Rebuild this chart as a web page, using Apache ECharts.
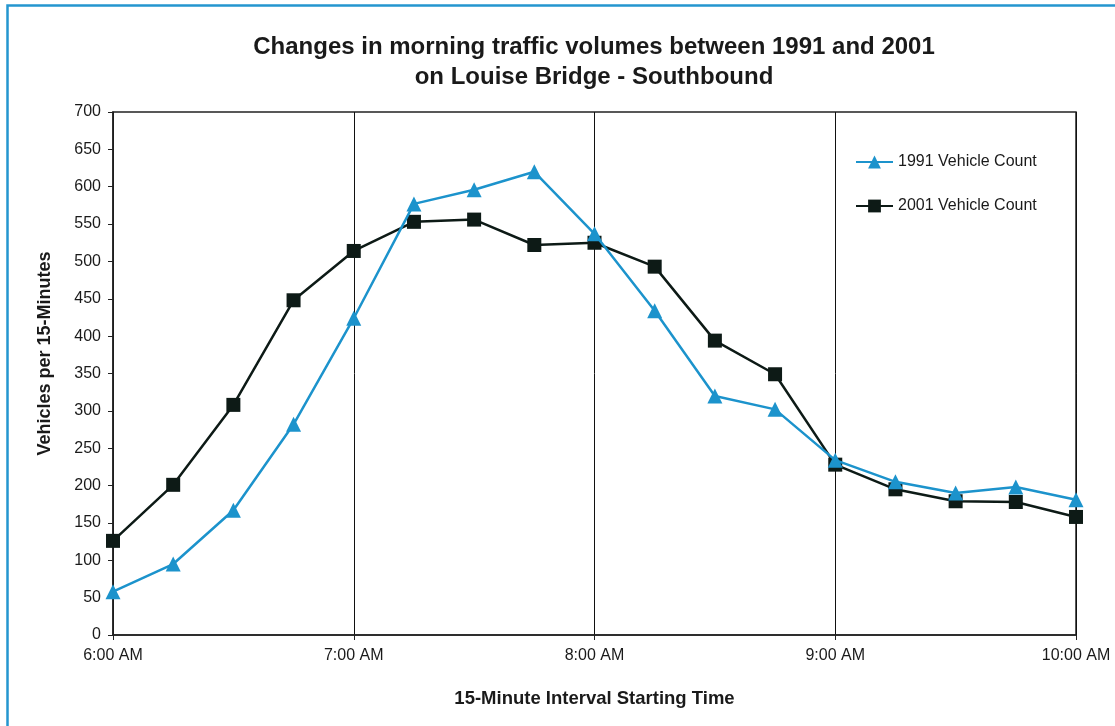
<!DOCTYPE html>
<html>
<head>
<meta charset="utf-8">
<script src="https://cdn.jsdelivr.net/npm/echarts@6/dist/echarts.min.js"></script>
<style>
  html, body { margin: 0; padding: 0; background: #fff; }
  #chart { width: 1115px; height: 726px; }
</style>
</head>
<body>
<div id="chart"></div>
<script>
// 15-minute intervals, 6:00 to 10:00
const times = [
  "6:00 AM", "6:15 AM", "6:30 AM", "6:45 AM",
  "7:00 AM", "7:15 AM", "7:30 AM", "7:45 AM",
  "8:00 AM", "8:15 AM", "8:30 AM", "8:45 AM",
  "9:00 AM", "9:15 AM", "9:30 AM", "9:45 AM",
  "10:00 AM"
];
const count1991 = [58, 95, 167, 282, 424, 577, 596, 620, 537, 434, 320, 302, 234, 205, 190, 198, 181];
const count2001 = [126, 201, 308, 448, 514, 553, 556, 522, 525, 493, 394, 349, 228, 195, 179, 178, 158];

const chart = echarts.init(document.getElementById("chart"));
const font = "'Liberation Sans', Arial, sans-serif";
const ink = "#1a1a1a";

chart.setOption({
  animation: false,
  textStyle: { fontFamily: font },
  title: {
    text: "Changes in morning traffic volumes between 1991 and 2001\non Louise Bridge - Southbound",
    left: 589,
    textAlign: "center",
    top: 27,
    textStyle: { fontSize: 24, fontWeight: "bold", color: ink, lineHeight: 30, fontFamily: font }
  },
  graphic: [
    {
      type: "polyline",
      shape: { points: [[7.5, 740], [7.5, 5.5], [1120, 5.5]] },
      style: { stroke: "#2596cf", lineWidth: 2.5, fill: null }
    }
  ],
  legend: {
    orient: "vertical",
    left: 850,
    top: 149,
    itemGap: 28,
    itemWidth: 37,
    itemHeight: 16,
    textStyle: { fontSize: 16, color: ink, fontFamily: font },
    data: ["1991 Vehicle Count", "2001 Vehicle Count"]
  },
  grid: {
    left: 113,
    right: 39,
    top: 112,
    bottom: 91,
    show: true,
    borderColor: "#222",
    borderWidth: 1.5,
    containLabel: false
  },
  xAxis: {
    type: "category",
    data: times,
    boundaryGap: false,
    name: "15-Minute Interval Starting Time",
    nameLocation: "middle",
    nameGap: 54,
    nameTextStyle: { fontSize: 18.5, fontWeight: "bold", color: ink, fontFamily: font },
    axisLine: { lineStyle: { color: "#222", width: 1.5 } },
    axisTick: { show: true, interval: 3, length: 5, lineStyle: { color: "#222" } },
    axisLabel: { interval: 3, fontSize: 16, color: ink, margin: 13, fontFamily: font },
    splitLine: { show: true, interval: 3, lineStyle: { color: "#111", width: 1 } }
  },
  yAxis: {
    type: "value",
    min: 0,
    max: 700,
    interval: 50,
    name: "Vehicles per 15-Minutes",
    nameLocation: "middle",
    nameGap: 59,
    nameTextStyle: { fontSize: 18, fontWeight: "bold", color: ink, fontFamily: font, padding: [0, 0, 0, 40] },
    axisLine: { show: true, lineStyle: { color: "#222", width: 1.5 } },
    axisTick: { show: true, length: 5, lineStyle: { color: "#222" } },
    axisLabel: { fontSize: 16, color: ink, margin: 12, fontFamily: font },
    splitLine: { show: false }
  },
  series: [
    {
      name: "1991 Vehicle Count",
      type: "line",
      data: count1991,
      symbol: "triangle",
      symbolSize: 15,
      color: "#1c93cc",
      lineStyle: { width: 2.5, color: "#1c93cc" },
      itemStyle: { color: "#1c93cc" },
      z: 3
    },
    {
      name: "2001 Vehicle Count",
      type: "line",
      data: count2001,
      symbol: "rect",
      symbolSize: 14,
      color: "#0d1a16",
      lineStyle: { width: 2.5, color: "#0d1a16" },
      itemStyle: { color: "#0d1a16" },
      z: 2
    }
  ]
});
</script>
</body>
</html>
